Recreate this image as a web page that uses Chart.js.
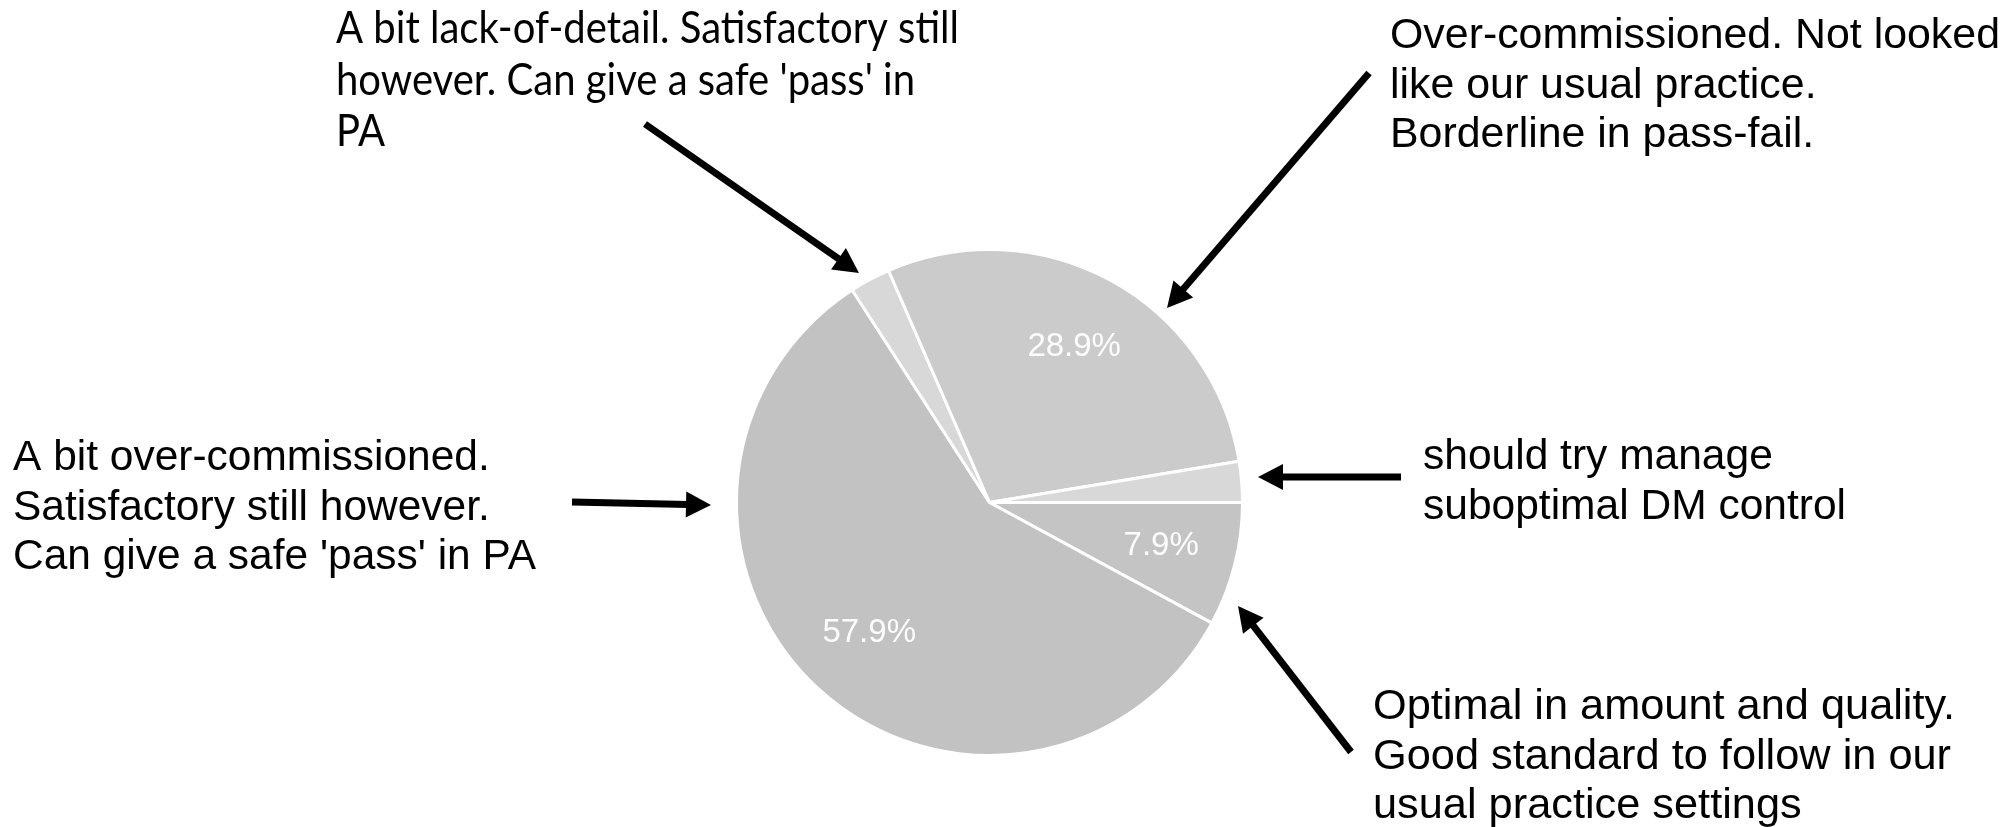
<!DOCTYPE html>
<html>
<head>
<meta charset="utf-8">
<title>Assessment of commissioning quality</title>
<script src="https://cdn.jsdelivr.net/npm/chart.js@4.4.1/dist/chart.umd.min.js"></script>
<style>
  html, body { margin: 0; padding: 0; background: #ffffff; }
  canvas { display: block; }
</style>
</head>
<body>
<canvas id="pie" width="2010" height="827"></canvas>
<script>
// Slice categories, clockwise from 3 o'clock
const categories = [
  'Optimal',
  'A bit over-commissioned',
  'A bit lack-of-detail',
  'Over-commissioned',
  'Suboptimal DM control'
];
// Share of responses (%)
const shares = [7.9, 57.9, 2.6, 28.9, 2.6];
const sliceColors = ['#c4c4c4', '#c2c2c2', '#d8d8d8', '#cbcbcb', '#d8d8d8'];

// Callout texts
const noteLackDetail = ['A bit lack-of-detail. Satisfactory still', "however. Can give a safe 'pass' in", 'PA'];
const noteOverCommissioned = ['Over-commissioned. Not looked', 'like our usual practice.', 'Borderline in pass-fail.'];
const noteBitOver = ['A bit over-commissioned.', 'Satisfactory still however.', "Can give a safe 'pass' in PA"];
const noteDmControl = ['should try manage', 'suboptimal DM control'];
const noteOptimal = ['Optimal in amount and quality.', 'Good standard to follow in our', 'usual practice settings'];

// Callout placement: x, first baseline, line step, font, width of widest line
const callouts = [
  { lines: noteLackDetail, x: 336, y: 43, step: 51.5, font: '44px Lato', width: 623 },
  { lines: noteOverCommissioned, x: 1390, y: 48, step: 49.5, font: '43px "Liberation Sans"', width: 610 },
  { lines: noteBitOver, x: 13, y: 470, step: 49.5, font: '43px "Liberation Sans"', width: 523 },
  { lines: noteDmControl, x: 1423, y: 469, step: 49.5, font: '43px "Liberation Sans"', width: 423 },
  { lines: noteOptimal, x: 1373, y: 719, step: 49.5, font: '43px "Liberation Sans"', width: 582 }
];

// Arrows: tail x, tail y, tip x, tip y
const arrows = [
  [645, 124, 859, 273],
  [1369, 73, 1167, 308],
  [572, 502, 711, 505],
  [1401, 477, 1258, 477],
  [1351, 752, 1238, 606]
];

const percentLabels = {
  id: 'percentLabels',
  afterDatasetsDraw(chart) {
    const { ctx } = chart;
    const meta = chart.getDatasetMeta(0);
    const values = chart.data.datasets[0].data;
    ctx.save();
    ctx.font = '33px "Liberation Sans", Arial, sans-serif';
    ctx.fillStyle = 'rgba(255,255,255,0.95)';
    ctx.textAlign = 'center';
    ctx.textBaseline = 'middle';
    meta.data.forEach((arc, i) => {
      if (values[i] < 5) return;
      const p = arc.getProps(['x', 'y', 'startAngle', 'endAngle', 'outerRadius'], true);
      const mid = (p.startAngle + p.endAngle) / 2;
      const r = p.outerRadius * 0.7;
      ctx.fillText(values[i].toFixed(1) + '%', p.x + Math.cos(mid) * r, p.y + Math.sin(mid) * r);
    });
    ctx.restore();
  }
};

const calloutsAndArrows = {
  id: 'callouts',
  afterDraw(chart) {
    const { ctx } = chart;
    ctx.save();
    ctx.fillStyle = '#000000';
    ctx.textAlign = 'left';
    ctx.textBaseline = 'alphabetic';
    callouts.forEach(c => {
      ctx.font = c.font;
      const widest = Math.max(...c.lines.map(l => ctx.measureText(l).width));
      const sx = c.width / widest;
      c.lines.forEach((line, k) => {
        ctx.save();
        ctx.translate(c.x, c.y + k * c.step);
        ctx.scale(sx, 1);
        ctx.fillText(line, 0, 0);
        ctx.restore();
      });
    });

    const headLen = 25, headHalf = 13;
    ctx.strokeStyle = '#000000';
    ctx.lineWidth = 7;
    ctx.lineCap = 'butt';
    arrows.forEach(([x1, y1, x2, y2]) => {
      const dx = x2 - x1, dy = y2 - y1;
      const len = Math.hypot(dx, dy);
      const ux = dx / len, uy = dy / len;
      const bx = x2 - ux * headLen, by = y2 - uy * headLen;
      ctx.beginPath();
      ctx.moveTo(x1, y1);
      ctx.lineTo(bx + ux * 2, by + uy * 2);
      ctx.stroke();
      ctx.beginPath();
      ctx.moveTo(x2, y2);
      ctx.lineTo(bx - uy * headHalf, by + ux * headHalf);
      ctx.lineTo(bx + uy * headHalf, by - ux * headHalf);
      ctx.closePath();
      ctx.fill();
    });
    ctx.restore();
  }
};

function draw() {
  new Chart(document.getElementById('pie'), {
    type: 'pie',
    data: {
      labels: categories,
      datasets: [{
        data: shares,
        backgroundColor: sliceColors,
        borderColor: '#ffffff',
        borderWidth: 3
      }]
    },
    options: {
      responsive: false,
      animation: false,
      devicePixelRatio: 1,
      rotation: 90,
      layout: { padding: { left: 735, right: 766, top: 248, bottom: 70 } },
      plugins: {
        legend: { display: false },
        tooltip: { enabled: false }
      }
    },
    plugins: [percentLabels, calloutsAndArrows]
  });
}

if (document.fonts && document.fonts.load) {
  Promise.all([
    document.fonts.load('44px Lato'),
    document.fonts.load('43px "Liberation Sans"')
  ]).then(draw, draw);
} else {
  draw();
}
</script>
</body>
</html>
